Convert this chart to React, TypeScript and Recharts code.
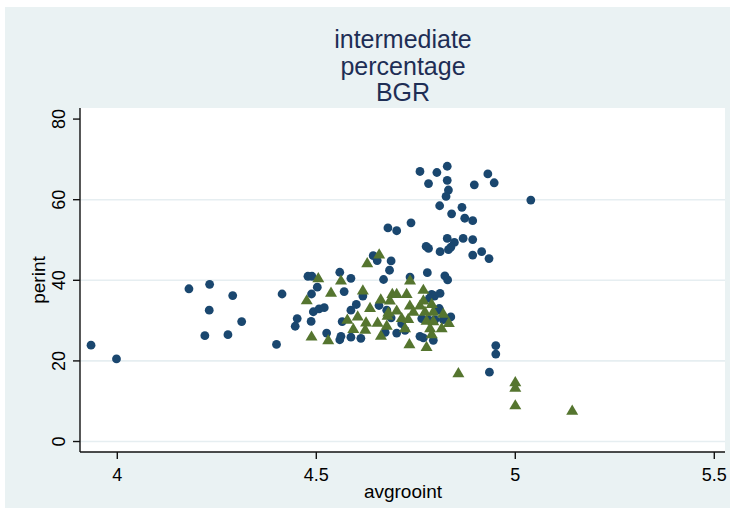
import React from 'react';
import { ScatterChart, Scatter, XAxis, YAxis, CartesianGrid } from 'recharts';

const FONT = '"Liberation Sans", Arial, sans-serif';

const titleLines = ['intermediate', 'percentage', 'BGR'];
const xLabel = 'avgrooint';
const yLabel = 'perint';
const xTicks = [4, 4.5, 5, 5.5];
const yTicks = [0, 20, 40, 60, 80];
const gridValues = [0, 20, 40, 60];

// navy circles
const circleX = [
  3.934, 3.998, 4.18, 4.232, 4.231, 4.29, 4.3125, 4.22, 4.278, 4.4,
  4.414, 4.452, 4.447, 4.479, 4.489, 4.5025, 4.488, 4.487, 4.4925, 4.507,
  4.52, 4.526, 4.559, 4.562, 4.587, 4.612, 4.565, 4.587, 4.6005, 4.617,
  4.559, 4.587, 4.57, 4.643, 4.653, 4.688, 4.684, 4.669, 4.68, 4.702,
  4.6575, 4.677, 4.688, 4.673, 4.702, 4.738, 4.7605, 4.782, 4.803, 4.829,
  4.829, 4.832, 4.826, 4.897, 4.931, 4.947, 5.039, 4.81, 4.866, 4.84,
  4.873, 4.893, 4.829, 4.847, 4.832, 4.838, 4.869, 4.893, 4.776, 4.782,
  4.811, 4.893, 4.9155, 4.934, 4.7355, 4.779, 4.823, 4.83, 4.79, 4.797,
  4.811, 4.784, 4.8065, 4.781, 4.798, 4.765, 4.769, 4.7605, 4.794, 4.819,
  4.838, 4.7146, 4.723, 4.951, 4.951, 4.935, 4.809,
];
const circleY = [
  23.9, 20.5, 37.9, 39.0, 32.6, 36.2, 29.75, 26.25, 26.5, 24.1,
  36.6, 30.5, 28.6, 41.0, 41.0, 38.3, 36.6, 29.8, 32.2, 32.9,
  33.2, 26.9, 25.25, 26.1, 25.9, 25.6, 29.75, 32.6, 34.0, 36.1,
  42.0, 40.5, 37.2, 46.1, 44.9, 44.8, 42.5, 40.2, 53.0, 52.3,
  33.75, 32.6, 30.7, 27.1, 26.9, 54.25, 67.0, 64.0, 66.75, 68.3,
  64.8, 62.4, 60.8, 63.7, 66.4, 64.2, 59.9, 58.5, 58.1, 56.5,
  55.4, 54.8, 50.4, 49.4, 47.6, 48.2, 50.4, 50.1, 48.4, 47.9,
  47.1, 46.25, 47.1, 45.4, 40.8, 41.9, 41.1, 40.1, 36.5, 36.1,
  36.75, 35.5, 32.6, 30.25, 30.25, 30.5, 25.7, 26.1, 25.1, 30.25,
  30.9, 29.25, 27.6, 23.8, 21.7, 17.2, 33.0,
];

// green triangles
const triangleX = [
  4.505, 4.562, 4.537, 4.617, 4.628, 4.658, 4.691, 4.702, 4.662, 4.476,
  4.488, 4.53, 4.578, 4.593, 4.604, 4.623, 4.625, 4.635, 4.654, 4.6625,
  4.679, 4.681, 4.685, 4.702, 4.7355, 4.769, 4.727, 4.735, 4.7605, 4.769,
  4.79, 4.744, 4.773, 4.794, 4.819, 4.7146, 4.731, 4.777, 4.794, 4.833,
  4.677, 4.723, 4.786, 4.815, 4.79, 4.734, 4.777, 4.857, 5.0, 5.0,
  5.0, 5.143,
];
const triangleY = [
  40.8, 40.2, 37.2, 37.75, 44.5, 46.7, 36.9, 36.9, 35.5, 35.3,
  26.3, 25.4, 30.5, 28.2, 31.3, 28.0, 29.8, 33.4, 29.75, 26.5,
  31.5, 32.3, 35.25, 32.75, 40.25, 37.9, 36.9, 34.0, 34.0, 35.25,
  34.4, 32.5, 32.5, 32.5, 32.0, 30.9, 30.7, 30.25, 30.1, 29.7,
  29.0, 28.4, 28.4, 28.4, 26.9, 24.4, 23.75, 17.2, 15.0, 13.6,
  9.25, 7.9,
];

const circles = circleX.map((x, i) => ({ x, y: circleY[i] }));
const triangles = triangleX.map((x, i) => ({ x, y: triangleY[i] }));

const NAVY = '#1a476f';
const GREEN = '#55752f';

const Dot = (props: any) => <circle cx={props.cx} cy={props.cy} r={4.4} fill={NAVY} />;

const Tri = (props: any) => {
  const { cx, cy } = props;
  const w = 6;
  const h = 5.1;
  return (
    <polygon
      points={`${cx},${cy - h} ${cx - w},${cy + h} ${cx + w},${cy + h}`}
      fill={GREEN}
    />
  );
};

const XTick = (props: any) => (
  <text x={props.x} y={props.y + 22} textAnchor="middle" fontSize={18} fontFamily={FONT} fill="#000">
    {props.payload.value}
  </text>
);

const YTick = (props: any) => {
  const bx = props.x - 8;
  return (
    <text
      x={bx}
      y={props.y}
      transform={`rotate(-90, ${bx}, ${props.y})`}
      textAnchor="middle"
      fontSize={18}
      fontFamily={FONT}
      fill="#000"
    >
      {props.payload.value}
    </text>
  );
};

export default function App() {
  return (
    <div style={{ position: 'absolute', left: 0, top: 0, width: 730, height: 515, background: '#fff' }}>
      <div style={{ position: 'absolute', left: 5, top: 7, width: 725, height: 501, background: '#eaf2f3' }} />
      <div style={{ position: 'absolute', left: 0, top: 0 }}>
        <ScatterChart width={730} height={515} margin={{ top: 108, right: 5, bottom: 0, left: 0 }}>
          <CartesianGrid
            fill="#ffffff"
            vertical={false}
            horizontalValues={gridValues}
            stroke="#e6eef1"
            strokeWidth={1.6}
          />
          <XAxis
            type="number"
            dataKey="x"
            domain={[3.9063, 5.5269]}
            allowDataOverflow
            ticks={xTicks}
            height={63}
            tickSize={7}
            tickMargin={0}
            tick={XTick}
            axisLine={{ stroke: '#111', strokeWidth: 1.4 }}
            tickLine={{ stroke: '#111', strokeWidth: 1.4 }}
          />
          <YAxis
            type="number"
            dataKey="y"
            domain={[-2.6, 82.75]}
            allowDataOverflow
            ticks={yTicks}
            width={80}
            tickSize={7}
            tickMargin={0}
            tick={YTick}
            axisLine={{ stroke: '#111', strokeWidth: 1.4 }}
            tickLine={{ stroke: '#111', strokeWidth: 1.4 }}
          />
          <Scatter data={circles} shape={Dot} isAnimationActive={false} />
          <Scatter data={triangles} shape={Tri} isAnimationActive={false} />
        </ScatterChart>
      </div>
      <svg width={730} height={515} style={{ position: 'absolute', left: 0, top: 0, pointerEvents: 'none' }}>
        {titleLines.map((t, i) => (
          <text key={t} x={403} y={48 + i * 26.5} textAnchor="middle" fontSize={25} fontFamily={FONT} fill="#1e2e55">
            {t}
          </text>
        ))}
        <text x={403} y={498} textAnchor="middle" fontSize={19} fontFamily={FONT} fill="#000">
          {xLabel}
        </text>
        <text x={45} y={280} transform="rotate(-90, 45, 280)" textAnchor="middle" fontSize={19} fontFamily={FONT} fill="#000">
          {yLabel}
        </text>
      </svg>
    </div>
  );
}
